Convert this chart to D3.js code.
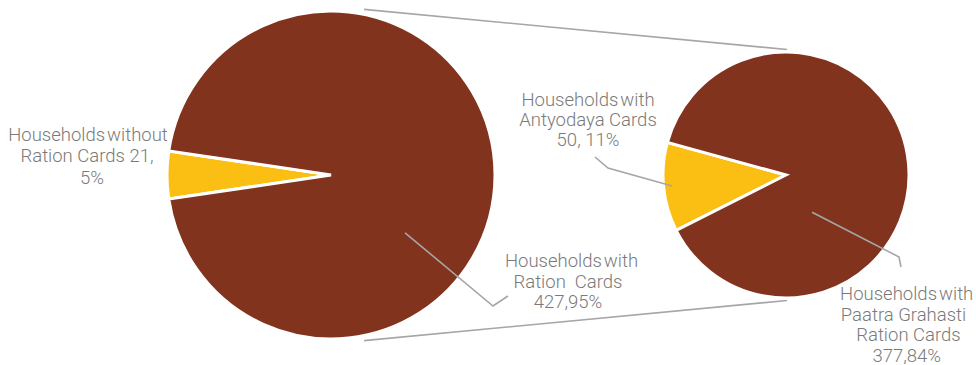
<!DOCTYPE html>
<html>
<head>
<meta charset="utf-8">
<script src="https://cdn.jsdelivr.net/npm/d3@7"></script>
<style>
  html, body { margin: 0; padding: 0; background: #fff; }
  svg { display: block; }
  .lbl { font-family: Roboto, "Noto Sans", sans-serif; font-weight: 300; font-size: 18.5px; fill: #7a7a7a; white-space: pre; }
  .lbl .head { word-spacing: -2.5px; }
</style>
</head>
<body>
<svg id="chart" width="976" height="365"></svg>
<script>
// Households by ration-card status (main pie) and the card-holders split by card type (secondary pie)
const mainCategories = ["Households without Ration Cards", "Households with Ration Cards"];
const mainValues = [21, 427];
const subCategories = ["Households with Antyodaya Cards", "Households with Paatra Grahasti Ration Cards"];
const subValues = [50, 377];
const sliceColors = ["#fbbf13", "#82331d"];

const total = d3.sum(mainValues);
const pct = d3.format(".0%");
const p = v => pct(v / total);

// label text, line by line
const mainLabelLines = [
  ["Households without", `Ration Cards ${mainValues[0]},`, p(mainValues[0])],
  ["Households with", "Ration  Cards", `${mainValues[1]},${p(mainValues[1])}`]
];
const subLabelLines = [
  ["Households with", "Antyodaya Cards", `${subValues[0]}, ${p(subValues[0])}`],
  ["Households with", "Paatra Grahasti", "Ration Cards", `${subValues[1]},${p(subValues[1])}`]
];

const svg = d3.select("#chart");
const deg = Math.PI / 180;

// layout
const mainPie = { cx: 331, cy: 175, r: 164 };
const subPie = { cx: 786, cy: 175, r: 123 };

function drawPie(cfg, values, startDeg) {
  const pie = d3.pie().sort(null)
    .startAngle(startDeg * deg)
    .endAngle(startDeg * deg + 2 * Math.PI);
  const arc = d3.arc().innerRadius(0).outerRadius(cfg.r);
  const g = svg.append("g").attr("transform", `translate(${cfg.cx},${cfg.cy})`);
  g.selectAll("path").data(pie(values)).join("path")
    .attr("d", arc)
    .attr("fill", (d, i) => sliceColors[i])
    .attr("stroke", "#fff")
    .attr("stroke-width", 3)
    .attr("stroke-linejoin", "miter");
  return g;
}

// polar helper: angle clockwise from 12 o'clock
const polar = (cfg, aDeg, rf) => [
  cfg.cx + Math.sin(aDeg * deg) * cfg.r * rf,
  cfg.cy - Math.cos(aDeg * deg) * cfg.r * rf
];

// series lines joining the two pies
const lineColor = "#a6a6a6";
const joins = [
  [polar(mainPie, 11.3, 1.03), polar(subPie, 0.5, 1.02)],
  [polar(mainPie, 168.7, 1.03), polar(subPie, 179.5, 1.02)]
];
svg.selectAll("line.join").data(joins).join("line")
  .attr("class", "join")
  .attr("x1", d => d[0][0]).attr("y1", d => d[0][1])
  .attr("x2", d => d[1][0]).attr("y2", d => d[1][1])
  .attr("stroke", lineColor).attr("stroke-width", 1.6);

const mainFrac = mainValues[0] / total;
drawPie(mainPie, mainValues, 270 - mainFrac * 180);
const subFrac = subValues[0] / d3.sum(subValues);
drawPie(subPie, subValues, 264.3 - subFrac * 180);

// leader lines: from a point inside the slice to the label
const leaders = [
  [polar(mainPie, 128, 0.573), [493, 306], [508, 296]],
  [polar(subPie, 264.5, 0.93), [608, 168], [595, 157]],
  [polar(subPie, 145, 0.37), [899, 257], [901, 267]]
];
svg.selectAll("path.leader").data(leaders).join("path")
  .attr("class", "leader")
  .attr("d", d => d3.line()(d))
  .attr("fill", "none")
  .attr("stroke", lineColor).attr("stroke-width", 1.6);

// data labels
const labels = [
  { lines: mainLabelLines[0], x: [88, 87, 92], y: 140.5, dy: 21.5 },
  { lines: mainLabelLines[1], x: [571.5, 568, 568], y: 267, dy: 20.7 },
  { lines: subLabelLines[0], x: [588, 588, 588], y: 106, dy: 20 },
  { lines: subLabelLines[1], x: [906.7, 903.5, 908.5, 906.7], y: 300, dy: 20.5 }
];
labels.forEach(l => {
  const t = svg.append("text").attr("class", "lbl").attr("text-anchor", "middle");
  l.lines.forEach((s, i) => {
    t.append("tspan")
      .attr("class", i === 0 ? "head" : null)
      .attr("x", l.x[i]).attr("y", l.y + i * l.dy).text(s);
  });
});
</script>
</body>
</html>
